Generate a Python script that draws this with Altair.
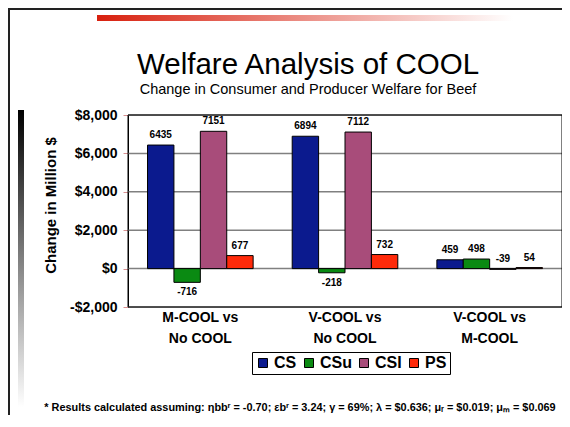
import altair as alt
import pandas as pd

FONT = "Liberation Sans, Arial, sans-serif"

# ---- data ----
categories = ["M-COOL vs No COOL", "V-COOL vs No COOL", "V-COOL vs M-COOL"]
series = ["CS", "CSu", "CSI", "PS"]
cs_values = [6435, 6894, 459]
csu_values = [-716, -218, 498]
csi_values = [7151, 7112, -39]
ps_values = [677, 732, 54]
colors = ["#0B1A8E", "#0A8A12", "#A84C7A", "#FF2A0A"]
y_ticks = [-2000, 0, 2000, 4000, 6000, 8000]

title_text = ["Welfare Analysis of COOL"]
subtitle_text = ["Change in Consumer and Producer Welfare for Beef"]
footnote_text = ["* Results calculated assuming: \u03b7bb\u02b3 = -0.70; \u03b5b\u02b3 = 3.24; \u03b3 = 69%; "
                 "\u03bb = $0.636; \u03bc\u1d63 = $0.019; \u03bc\u2098 = $0.069"]

rows = []
for i, c in enumerate(categories):
    for s, vals in zip(series, [cs_values, csu_values, csi_values, ps_values]):
        v = vals[i]
        rows.append({"category": c, "series": s, "value": v, "lbl": str(v)})
df = pd.DataFrame(rows)
df_above = df[df["value"] > -100].copy()
df_above["pos"] = df_above["value"].clip(lower=0)
df_below = df[df["value"] <= -100].copy()
df_ticks = pd.DataFrame({"value": y_ticks})

x_axis = alt.Axis(title=None, ticks=False, domain=False,
                  labelExpr="[split(datum.label, ' vs ')[0] + ' vs', split(datum.label, ' vs ')[1]]",
                  labelFontSize=14, labelFontWeight="bold", labelFont=FONT,
                  labelColor="black", labelPadding=3, labelLineHeight=21,
                  labelBaseline="top", labelAngle=0)
x_scale = alt.Scale(paddingInner=0.27, paddingOuter=0.135)
xo_enc = alt.XOffset("series:N", sort=series, scale=alt.Scale(paddingInner=0, paddingOuter=0))
y_scale = alt.Scale(domain=[-2000, 8000], nice=False)
y_axis = alt.Axis(title="Change in Million $", values=y_ticks, labelOverlap=False,
                  labelExpr="datum.value < 0 ? '-$' + format(-datum.value, ',') : '$' + format(datum.value, ',')",
                  labelFontSize=14, labelFontWeight="bold", labelFont=FONT, labelColor="black",
                  labelPadding=6, tickSize=5, tickColor="#D89090", domainColor="black",
                  grid=False,
                  titleFontSize=15, titleFontWeight="bold", titleFont=FONT, titleColor="black",
                  titleAngle=-90, titleX=-78, titleY=90, titleAlign="center",
                  titleBaseline="middle")


def xenc():
    return alt.X("category:N", sort=categories, scale=x_scale, axis=x_axis)


def yenc(field):
    return alt.Y(field, scale=y_scale, axis=y_axis, title="Change in Million $")


bars = alt.Chart(df).mark_bar(stroke="black", strokeWidth=1).encode(
    x=xenc(),
    xOffset=xo_enc,
    y=yenc("value:Q"),
    color=alt.Color("series:N", sort=series,
                    scale=alt.Scale(domain=series, range=colors),
                    legend=alt.Legend(title=None, orient="none", legendX=124, legendY=237,
                                      direction="horizontal", labelFontSize=16,
                                      labelFontWeight="bold", labelFont=FONT, labelColor="black",
                                      symbolType="square", symbolSize=81,
                                      symbolStrokeColor="black", symbolStrokeWidth=1,
                                      strokeColor="black", fillColor="white", padding=3,
                                      labelOffset=3, columnPadding=4)),
)

grid = alt.Chart(df_ticks).mark_rule(color="#808080", strokeWidth=1.5).encode(
    y=yenc("value:Q")
)

frame = alt.Chart(pd.DataFrame({"k": [0]})).mark_rect(
    fillOpacity=0, stroke="black", strokeWidth=1
).encode(x=alt.value(0), x2=alt.value(434), y=alt.value(0), y2=alt.value(192))

lab_above = alt.Chart(df_above).mark_text(
    fontSize=10, fontWeight="bold", font=FONT, baseline="bottom", dy=-5, color="black"
).encode(x=xenc(), xOffset=xo_enc, y=yenc("pos:Q"), text=alt.Text("lbl:N"))

lab_below = alt.Chart(df_below).mark_text(
    fontSize=10, fontWeight="bold", font=FONT, baseline="top", dy=5, color="black"
).encode(x=xenc(), xOffset=xo_enc, y=yenc("value:Q"), text=alt.Text("lbl:N"))

one = pd.DataFrame({"k": [0]})

title = alt.Chart(pd.DataFrame({"t": title_text})).mark_text(
    fontSize=29.5, font=FONT, color="black", align="center", baseline="alphabetic"
).encode(x=alt.value(180), y=alt.value(-41), text="t:N")

subtitle = alt.Chart(pd.DataFrame({"t": subtitle_text})).mark_text(
    fontSize=14.5, font=FONT, color="black", align="center", baseline="alphabetic"
).encode(x=alt.value(180), y=alt.value(-21), text="t:N")

footnote = alt.Chart(pd.DataFrame({"t": footnote_text})).mark_text(
    fontSize=10.9, fontWeight="bold", font=FONT, color="black", align="center", baseline="alphabetic"
).encode(x=alt.value(172), y=alt.value(296), text="t:N")

red_bar = alt.Chart(one).mark_rect(
    color=alt.LinearGradient(gradient="linear",
                             stops=[alt.GradientStop(color="#D8200E", offset=0),
                                    alt.GradientStop(color="#FFFFFF", offset=1)],
                             x1=0, x2=1, y1=0, y2=0)
).encode(x=alt.value(-31), x2=alt.value(385), y=alt.value(-100), y2=alt.value(-94))

gray_bar = alt.Chart(one).mark_rect(
    color=alt.LinearGradient(gradient="linear",
                             stops=[alt.GradientStop(color="#000000", offset=0),
                                    alt.GradientStop(color="#FFFFFF", offset=1)],
                             x1=0, x2=0, y1=0, y2=1)
).encode(x=alt.value(-110), x2=alt.value(-104), y=alt.value(-5), y2=alt.value(292))

frame_left = alt.Chart(one).mark_rule(color="#222222", strokeWidth=2).encode(
    x=alt.value(-119), y=alt.value(-107), y2=alt.value(300))
frame_top = alt.Chart(one).mark_rule(color="#222222", strokeWidth=2).encode(
    x=alt.value(-120), x2=alt.value(434), y=alt.value(-106))

chart = alt.layer(
    frame_left, frame_top, red_bar, gray_bar, title, subtitle, footnote,
    grid, frame, bars, lab_above, lab_below
).properties(
    width=434, height=192,
    padding={"left": 120, "top": 107, "right": 0, "bottom": 108},
    autosize=alt.AutoSizeParams(type="none"),
    background="white",
).configure_view(stroke=None).configure_axis(labelOverlap=False).configure(font=FONT)

chart.save("out.html", embed_options={"renderer": "svg", "actions": False})
